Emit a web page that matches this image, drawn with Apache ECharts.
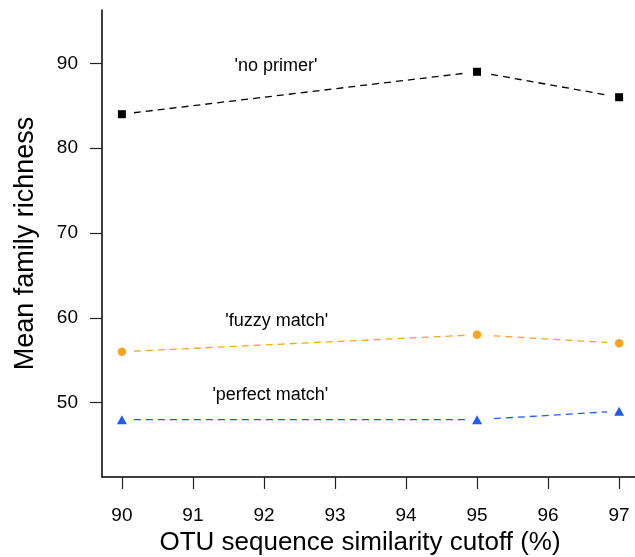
<!DOCTYPE html>
<html>
<head>
<meta charset="utf-8">
<script src="https://cdn.jsdelivr.net/npm/echarts@6/dist/echarts.min.js"></script>
<style>
html,body{margin:0;padding:0;background:#fff;}
#chart{width:635px;height:557px;}
</style>
</head>
<body>
<div id="chart"></div>
<script>
// ---- data ----
const cutoffs = [90, 95, 97];
const noPrimer = [84, 89, 86];
const fuzzyMatch = [56, 58, 57];
const perfectMatch = [48, 48, 49];
const xTicks = [90, 91, 92, 93, 94, 95, 96, 97];
const yTicks = [50, 60, 70, 80, 90];
const seriesNames = ["'no primer'", "'fuzzy match'", "'perfect match'"];
// annotation anchors in data units
const labelX = [92.17, 92.18, 92.09];
const labelY = [89.7, 59.6, 50.9];

const FONT = "'Liberation Sans', Arial, Helvetica, sans-serif";
const groups = [
  {name: seriesNames[0], values: noPrimer, color: '#000000', symbol: 'rect', size: 8},
  {name: seriesNames[1], values: fuzzyMatch, color: '#F7A51F', symbol: 'circle', size: 8.5},
  {name: seriesNames[2], values: perfectMatch, color: '#1D5CF2', symbol: 'triangle', size: [10, 9]}
];

const series = [];
groups.forEach(g => {
  const pts = cutoffs.map((c, i) => [c, g.values[i]]);
  // dashed line with white masks to create gaps around points (R type="b")
  series.push({
    type: 'line', data: pts, silent: true, z: 2,
    symbol: 'circle', symbolSize: 24, showSymbol: true,
    itemStyle: {color: '#ffffff', borderWidth: 0},
    lineStyle: {color: g.color, width: 1.3, type: [7, 5]},
    emphasis: {disabled: true}
  });
  series.push({
    type: 'scatter', data: pts, silent: true, z: 5,
    symbol: g.symbol, symbolSize: g.size,
    itemStyle: {color: g.color, opacity: 1},
    emphasis: {disabled: true}
  });
});
series.push({
  type: 'scatter', silent: true, symbolSize: 0, z: 6,
  itemStyle: {color: 'transparent'},
  data: seriesNames.map((n, i) => ({value: [labelX[i], labelY[i]], name: n})),
  label: {show: true, position: 'inside', formatter: p => p.name,
          fontFamily: FONT, fontSize: 18, color: '#000', textBorderWidth: 0, opacity: 1}
});

const chart = echarts.init(document.getElementById('chart'));
chart.setOption({
  animation: false,
  backgroundColor: '#ffffff',
  grid: {left: 102, top: 10, width: 537, height: 467, containLabel: false, outerBoundsMode: 'none'},
  xAxis: {
    type: 'value', min: 89.72, max: 97.28,
    name: 'OTU sequence similarity cutoff (%)', nameLocation: 'middle', nameGap: 48,
    nameTextStyle: {fontFamily: FONT, fontSize: 26, color: '#000', padding: [0, 21, 0, 0]},
    axisLine: {show: true, onZero: false, lineStyle: {color: '#000', width: 1.5}},
    axisTick: {show: true, inside: false, length: 12, customValues: xTicks, lineStyle: {color: '#222', width: 1.2}},
    axisLabel: {show: true, margin: 29, customValues: xTicks, fontFamily: FONT, fontSize: 19, color: '#000'},
    splitLine: {show: false}
  },
  yAxis: {
    type: 'value', min: 41.24, max: 96.28,
    name: 'Mean family richness', nameLocation: 'middle', nameGap: 63, nameRotate: 90,
    nameTextStyle: {fontFamily: FONT, fontSize: 27, color: '#000'},
    axisLine: {show: true, onZero: false, lineStyle: {color: '#000', width: 1.5}},
    axisTick: {show: true, inside: false, length: 12, customValues: yTicks, lineStyle: {color: '#222', width: 1.2}},
    axisLabel: {show: true, margin: 24, customValues: yTicks, fontFamily: FONT, fontSize: 19, color: '#000'},
    splitLine: {show: false}
  },
  series: series
});
</script>
</body>
</html>
